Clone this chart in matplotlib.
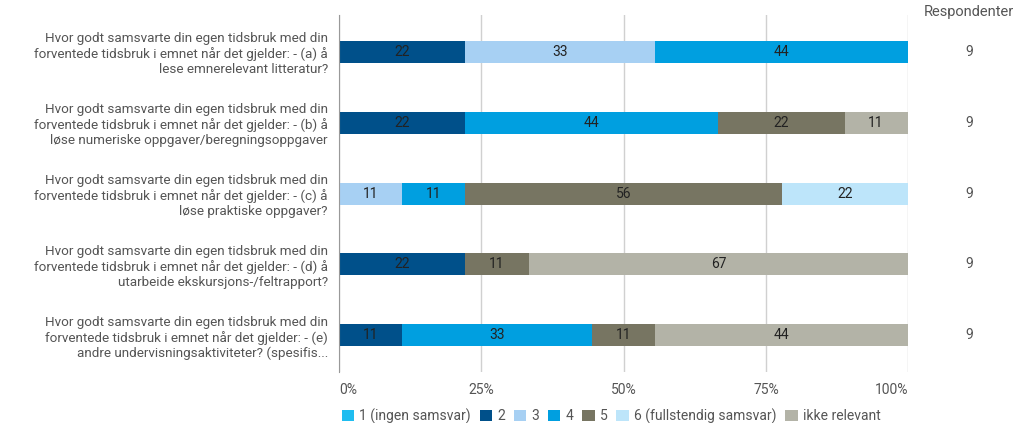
import matplotlib
matplotlib.use("Agg")
import matplotlib.pyplot as plt
import numpy as np

plt.rcParams['font.family'] = ['Roboto', 'DejaVu Sans']

questions = [
    "Hvor godt samsvarte din egen tidsbruk med din\nforventede tidsbruk i emnet når det gjelder: - (a) å\nlese emnerelevant litteratur?",
    "Hvor godt samsvarte din egen tidsbruk med din\nforventede tidsbruk i emnet når det gjelder: - (b) å\nløse numeriske oppgaver/beregningsoppgaver",
    "Hvor godt samsvarte din egen tidsbruk med din\nforventede tidsbruk i emnet når det gjelder: - (c) å\nløse praktiske oppgaver?",
    "Hvor godt samsvarte din egen tidsbruk med din\nforventede tidsbruk i emnet når det gjelder: - (d) å\nutarbeide ekskursjons-/feltrapport?",
    "Hvor godt samsvarte din egen tidsbruk med din\nforventede tidsbruk i emnet når det gjelder: - (e)\nandre undervisningsaktiviteter? (spesifis...",
]
categories = ["1 (ingen samsvar)", "2", "3", "4", "5", "6 (fullstendig samsvar)", "ikke relevant"]
colors = ["#1fbdf0", "#00508a", "#a7d0f3", "#009fe0", "#777562", "#bde5fa", "#b3b3a7"]

# percent per category, one list per category (rows a..e)
s1 = [0, 0, 0, 0, 0]
s2 = [22.2, 22.2, 0, 22.2, 11.1]
s3 = [33.3, 0, 11.1, 0, 0]
s4 = [44.4, 44.4, 11.1, 0, 33.3]
s5 = [0, 22.2, 55.6, 11.1, 11.1]
s6 = [0, 0, 22.2, 0, 0]
s_ikke = [0, 11.1, 0, 66.7, 44.4]
respondents = [9, 9, 9, 9, 9]

series = [s1, s2, s3, s4, s5, s6, s_ikke]

fig = plt.figure(figsize=(10.24, 4.23), dpi=100)
ax = fig.add_axes([0.331, 0.12, 0.556, 0.845])

y = np.arange(len(questions))
left = np.zeros(len(questions))
for name, vals, col in zip(categories, series, colors):
    vals = np.array(vals)
    bars = ax.barh(y, vals, left=left, height=0.31, color=col, label=name, zorder=3)
    for b, v in zip(bars, vals):
        if v > 0:
            ax.text(b.get_x() + b.get_width() / 2, b.get_y() + b.get_height() / 2,
                    f"{v:.0f}", ha='center', va='center', fontsize=10,
                    color='#222222', zorder=4)
    left += vals

ax.set_xlim(0, 100)
ax.set_ylim(4.52, -0.52)
ax.set_yticks(y)
ax.set_yticklabels(questions, fontsize=9.7, color='#555555', linespacing=1.18)
ax.tick_params(axis='y', length=0, pad=8)
ax.tick_params(axis='x', length=0, pad=8, labelsize=10, labelcolor='#555555')
ax.set_xticks([0, 25, 50, 75, 100])
ax.set_xticklabels(["0%", "25%", "50%", "75%", "100%"])
xl = ax.get_xticklabels()
xl[0].set_ha('left')
xl[-1].set_ha('right')
ax.grid(axis='x', color='#d0d0d0', linewidth=1, zorder=0)
for s in ['top', 'right', 'bottom']:
    ax.spines[s].set_visible(False)
ax.spines['left'].set_color('#999999')
ax.spines['left'].set_zorder(5)

# respondent column
for yi, n in zip(y, respondents):
    ax.text(1.107, yi, str(n), transform=ax.get_yaxis_transform(), ha='center',
            va='center', fontsize=10, color='#555555')
fig.text(0.946, 0.972, "Respondenter", ha='center', va='center', fontsize=10.5, color='#555555')

leg = ax.legend(loc='upper left', bbox_to_anchor=(-0.005, -0.085), ncol=7, frameon=False,
                handlelength=0.9, handleheight=0.9, handletextpad=0.35, columnspacing=0.65,
                fontsize=10, labelcolor='#555555', borderaxespad=0)

fig.savefig("out.png", dpi=100)
